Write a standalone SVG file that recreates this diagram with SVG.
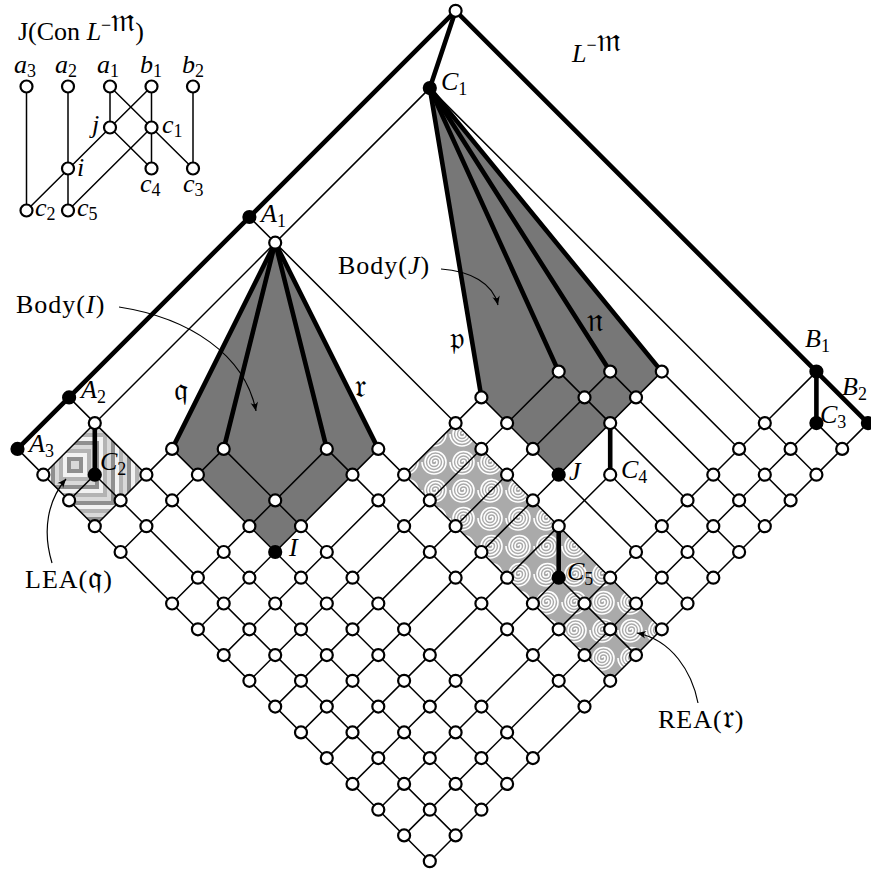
<svg xmlns="http://www.w3.org/2000/svg" width="871" height="873" viewBox="0 0 871 873">
<style>
.t{stroke:#000;stroke-width:1.5;fill:none;stroke-linecap:round}
.k{stroke:#000;stroke-width:4.6;fill:none;stroke-linecap:round}
.a{stroke:#000;stroke-width:1.2;fill:none}
.w{fill:#fff;stroke:#000;stroke-width:2.2}
.b{fill:#000;stroke:#000;stroke-width:2.2}
text{font-family:"Liberation Serif","DejaVu Serif",serif;font-size:26px;fill:#000}
.i{font-style:italic}
.s{font-size:18px}
.f{font-family:"DejaVu Sans","Noto Sans",sans-serif;font-size:32px}
.body{fill:#777}
</style>
<defs>
<pattern id="spiral" width="28" height="28" patternUnits="userSpaceOnUse">
<rect width="28" height="28" fill="#aaa"/>
<path d="M14,14 a1.5,1.5 0 0 1 3,0 a3,3 0 0 1 -6,0 a4.5,4.5 0 0 1 9,0 a6,6 0 0 1 -12,0 a7.5,7.5 0 0 1 15,0 a9,9 0 0 1 -18,0 a10.5,10.5 0 0 1 21,0 a12,12 0 0 1 -24,0" fill="none" stroke="#fff" stroke-width="1.6"/>
</pattern>
<clipPath id="leaClip"><polygon points="94.8,423.1 146.4,474.7 94.8,526.2 43.3,474.7"/></clipPath>
<marker id="ah" markerWidth="12" markerHeight="10" viewBox="-10 -5 12 10" refX="0" refY="0" orient="auto" markerUnits="userSpaceOnUse">
<path d="M0,0 L-9,-3.8 Q-5,0 -9,3.8 Z" fill="#000"/>
</marker>
</defs>

<g id="areas">
<polygon class="body" points="275.2,242.7 172.1,448.9 275.2,552.0 378.3,448.9"/>
<polygon class="body" points="429.8,88.1 481.4,397.4 558.7,474.7 661.8,371.6"/>
<polygon fill="url(#spiral)" points="455.6,423.1 661.8,629.3 610.2,680.8 404.1,474.7"/>
<g clip-path="url(#leaClip)">
<rect x="3" y="393" width="144" height="144" fill="#8f8f8f"/>
<rect x="7" y="397" width="136" height="136" fill="#d9d9d9"/>
<rect x="11" y="401" width="128" height="128" fill="#b3b3b3"/>
<rect x="15" y="405" width="120" height="120" fill="#f2f2f2"/>
<rect x="19" y="409" width="112" height="112" fill="#8f8f8f"/>
<rect x="23" y="413" width="104" height="104" fill="#d9d9d9"/>
<rect x="27" y="417" width="96" height="96" fill="#b3b3b3"/>
<rect x="31" y="421" width="88" height="88" fill="#f2f2f2"/>
<rect x="35" y="425" width="80" height="80" fill="#8f8f8f"/>
<rect x="39" y="429" width="72" height="72" fill="#d9d9d9"/>
<rect x="43" y="433" width="64" height="64" fill="#b3b3b3"/>
<rect x="47" y="437" width="56" height="56" fill="#f2f2f2"/>
<rect x="51" y="441" width="48" height="48" fill="#8f8f8f"/>
<rect x="55" y="445" width="40" height="40" fill="#d9d9d9"/>
<rect x="59" y="449" width="32" height="32" fill="#b3b3b3"/>
<rect x="63" y="453" width="24" height="24" fill="#f2f2f2"/>
<rect x="67" y="457" width="16" height="16" fill="#8f8f8f"/>
<rect x="71" y="461" width="8" height="8" fill="#d9d9d9"/>
</g>
</g>

<g id="connectors">
<!-- thin lines, constant P -->
<line class="t" x1="429.8" y1="88.1" x2="43.3" y2="474.7"/>
<line class="t" x1="94.8" y1="474.7" x2="69.1" y2="500.4"/>
<line class="t" x1="172.1" y1="448.9" x2="94.8" y2="526.2"/>
<line class="t" x1="223.7" y1="448.9" x2="120.6" y2="552.0"/>
<line class="t" x1="326.8" y1="448.9" x2="172.1" y2="603.5"/>
<line class="t" x1="378.3" y1="448.9" x2="197.9" y2="629.3"/>
<line class="t" x1="481.4" y1="397.4" x2="223.7" y2="655.1"/>
<line class="t" x1="558.7" y1="371.6" x2="249.4" y2="680.8"/>
<line class="t" x1="610.2" y1="371.6" x2="275.2" y2="706.6"/>
<line class="t" x1="661.8" y1="371.6" x2="301.0" y2="732.4"/>
<line class="t" x1="610.2" y1="474.7" x2="326.8" y2="758.1"/>
<line class="t" x1="558.7" y1="577.7" x2="352.5" y2="783.9"/>
<line class="t" x1="816.4" y1="371.6" x2="378.3" y2="809.7"/>
<line class="t" x1="816.4" y1="423.1" x2="404.1" y2="835.4"/>
<line class="t" x1="867.9" y1="423.1" x2="429.8" y2="861.2"/>
<!-- thin lines, constant R -->
<line class="t" x1="816.4" y1="423.1" x2="842.2" y2="448.9"/>
<line class="t" x1="429.8" y1="88.1" x2="816.4" y2="474.7"/>
<line class="t" x1="661.8" y1="371.6" x2="790.6" y2="500.4"/>
<line class="t" x1="610.2" y1="371.6" x2="764.8" y2="526.2"/>
<line class="t" x1="558.7" y1="371.6" x2="739.1" y2="552.0"/>
<line class="t" x1="610.2" y1="474.7" x2="713.3" y2="577.7"/>
<line class="t" x1="481.4" y1="397.4" x2="687.5" y2="603.5"/>
<line class="t" x1="249.4" y1="217.0" x2="661.8" y2="629.3"/>
<line class="t" x1="558.7" y1="577.7" x2="636.0" y2="655.1"/>
<line class="t" x1="378.3" y1="448.9" x2="610.2" y2="680.8"/>
<line class="t" x1="326.8" y1="448.9" x2="584.5" y2="706.6"/>
<line class="t" x1="223.7" y1="448.9" x2="532.9" y2="758.1"/>
<line class="t" x1="172.1" y1="448.9" x2="507.1" y2="783.9"/>
<line class="t" x1="69.1" y1="397.4" x2="481.4" y2="809.7"/>
<line class="t" x1="94.8" y1="474.7" x2="455.6" y2="835.4"/>
<line class="t" x1="17.5" y1="448.9" x2="429.8" y2="861.2"/>
<!-- thick edges -->
<line class="k" x1="455.6" y1="10.8" x2="17.5" y2="448.9"/>
<line class="k" x1="455.6" y1="10.8" x2="867.9" y2="423.1"/>
<line class="k" x1="455.6" y1="10.8" x2="429.8" y2="88.1"/>
<line class="k" x1="816.4" y1="371.6" x2="816.4" y2="423.1"/>
<line class="k" x1="94.8" y1="423.1" x2="94.8" y2="474.7"/>
<line class="k" x1="610.2" y1="423.1" x2="610.2" y2="474.7"/>
<line class="k" x1="558.7" y1="526.2" x2="558.7" y2="577.7"/>
<line class="k" x1="429.8" y1="88.1" x2="481.4" y2="397.4"/>
<line class="k" x1="429.8" y1="88.1" x2="558.7" y2="371.6"/>
<line class="k" x1="429.8" y1="88.1" x2="610.2" y2="371.6"/>
<line class="k" x1="429.8" y1="88.1" x2="661.8" y2="371.6"/>
<line class="k" x1="275.2" y1="242.7" x2="172.1" y2="448.9"/>
<line class="k" x1="275.2" y1="242.7" x2="223.7" y2="448.9"/>
<line class="k" x1="275.2" y1="242.7" x2="326.8" y2="448.9"/>
<line class="k" x1="275.2" y1="242.7" x2="378.3" y2="448.9"/>
<!-- annotation arrows -->
<path class="a" d="M119,307 C190,318 245,355 256,411" marker-end="url(#ah)"/>
<path class="a" d="M441,269 C470,271 493,283 498,305" marker-end="url(#ah)"/>
<path class="a" d="M52,563 C42,530 48,500 66,479" marker-end="url(#ah)"/>
<path class="a" d="M698,703 C692,672 672,640 637,633" marker-end="url(#ah)"/>
<!-- inset edges -->
<line class="t" x1="26.5" y1="86.5" x2="26.5" y2="210.5"/>
<line class="t" x1="68" y1="86.5" x2="68" y2="210.5"/>
<line class="t" x1="110" y1="86.5" x2="110" y2="127.5"/>
<line class="t" x1="110" y1="86.5" x2="193" y2="168.5"/>
<line class="t" x1="151.5" y1="86.5" x2="26.5" y2="210.5"/>
<line class="t" x1="151.5" y1="86.5" x2="151.5" y2="168.5"/>
<line class="t" x1="193" y1="86.5" x2="193" y2="168.5"/>
<line class="t" x1="110" y1="127.5" x2="151.5" y2="168.5"/>
<line class="t" x1="151.5" y1="127.5" x2="68" y2="210.5"/>
</g>

<g id="nodes">
<g id="T"><circle class="w" cx="455.6" cy="10.8" r="6"/></g>
<g id="A1"><circle class="b" cx="249.4" cy="217.0" r="6"/></g>
<g id="A2"><circle class="b" cx="69.1" cy="397.4" r="6"/></g>
<g id="A3"><circle class="b" cx="17.5" cy="448.9" r="6"/></g>
<g id="C1"><circle class="b" cx="429.8" cy="88.1" r="6"/></g>
<g id="v1-8"><circle class="w" cx="275.2" cy="242.7" r="6"/></g>
<g id="v1-15"><circle class="w" cx="94.8" cy="423.1" r="6"/></g>
<g id="v1-17"><circle class="w" cx="43.3" cy="474.7" r="6"/></g>
<g id="C2"><circle class="b" cx="94.8" cy="474.7" r="6"/></g>
<g id="v2-17"><circle class="w" cx="69.1" cy="500.4" r="6"/></g>
<g id="v3-14"><circle class="w" cx="172.1" cy="448.9" r="6"/></g>
<g id="v3-15"><circle class="w" cx="146.4" cy="474.7" r="6"/></g>
<g id="v3-16"><circle class="w" cx="120.6" cy="500.4" r="6"/></g>
<g id="v3-17"><circle class="w" cx="94.8" cy="526.2" r="6"/></g>
<g id="v4-13"><circle class="w" cx="223.7" cy="448.9" r="6"/></g>
<g id="v4-14"><circle class="w" cx="197.9" cy="474.7" r="6"/></g>
<g id="v4-15"><circle class="w" cx="172.1" cy="500.4" r="6"/></g>
<g id="v4-16"><circle class="w" cx="146.4" cy="526.2" r="6"/></g>
<g id="v4-17"><circle class="w" cx="120.6" cy="552.0" r="6"/></g>
<g id="v6-11"><circle class="w" cx="326.8" cy="448.9" r="6"/></g>
<g id="v6-13"><circle class="w" cx="275.2" cy="500.4" r="6"/></g>
<g id="v6-14"><circle class="w" cx="249.4" cy="526.2" r="6"/></g>
<g id="v6-15"><circle class="w" cx="223.7" cy="552.0" r="6"/></g>
<g id="v6-16"><circle class="w" cx="197.9" cy="577.7" r="6"/></g>
<g id="v6-17"><circle class="w" cx="172.1" cy="603.5" r="6"/></g>
<g id="v7-10"><circle class="w" cx="378.3" cy="448.9" r="6"/></g>
<g id="v7-11"><circle class="w" cx="352.5" cy="474.7" r="6"/></g>
<g id="v7-13"><circle class="w" cx="301.0" cy="526.2" r="6"/></g>
<g id="I"><circle class="b" cx="275.2" cy="552.0" r="6"/></g>
<g id="v7-15"><circle class="w" cx="249.4" cy="577.7" r="6"/></g>
<g id="v7-16"><circle class="w" cx="223.7" cy="603.5" r="6"/></g>
<g id="v7-17"><circle class="w" cx="197.9" cy="629.3" r="6"/></g>
<g id="v8-7"><circle class="w" cx="481.4" cy="397.4" r="6"/></g>
<g id="v8-8"><circle class="w" cx="455.6" cy="423.1" r="6"/></g>
<g id="v8-10"><circle class="w" cx="404.1" cy="474.7" r="6"/></g>
<g id="v8-11"><circle class="w" cx="378.3" cy="500.4" r="6"/></g>
<g id="v8-13"><circle class="w" cx="326.8" cy="552.0" r="6"/></g>
<g id="v8-14"><circle class="w" cx="301.0" cy="577.7" r="6"/></g>
<g id="v8-15"><circle class="w" cx="275.2" cy="603.5" r="6"/></g>
<g id="v8-16"><circle class="w" cx="249.4" cy="629.3" r="6"/></g>
<g id="v8-17"><circle class="w" cx="223.7" cy="655.1" r="6"/></g>
<g id="v9-5"><circle class="w" cx="558.7" cy="371.6" r="6"/></g>
<g id="v9-7"><circle class="w" cx="507.1" cy="423.1" r="6"/></g>
<g id="v9-8"><circle class="w" cx="481.4" cy="448.9" r="6"/></g>
<g id="v9-10"><circle class="w" cx="429.8" cy="500.4" r="6"/></g>
<g id="v9-11"><circle class="w" cx="404.1" cy="526.2" r="6"/></g>
<g id="v9-13"><circle class="w" cx="352.5" cy="577.7" r="6"/></g>
<g id="v9-14"><circle class="w" cx="326.8" cy="603.5" r="6"/></g>
<g id="v9-15"><circle class="w" cx="301.0" cy="629.3" r="6"/></g>
<g id="v9-16"><circle class="w" cx="275.2" cy="655.1" r="6"/></g>
<g id="v9-17"><circle class="w" cx="249.4" cy="680.8" r="6"/></g>
<g id="v10-4"><circle class="w" cx="610.2" cy="371.6" r="6"/></g>
<g id="v10-5"><circle class="w" cx="584.5" cy="397.4" r="6"/></g>
<g id="v10-7"><circle class="w" cx="532.9" cy="448.9" r="6"/></g>
<g id="v10-8"><circle class="w" cx="507.1" cy="474.7" r="6"/></g>
<g id="v10-10"><circle class="w" cx="455.6" cy="526.2" r="6"/></g>
<g id="v10-11"><circle class="w" cx="429.8" cy="552.0" r="6"/></g>
<g id="v10-13"><circle class="w" cx="378.3" cy="603.5" r="6"/></g>
<g id="v10-14"><circle class="w" cx="352.5" cy="629.3" r="6"/></g>
<g id="v10-15"><circle class="w" cx="326.8" cy="655.1" r="6"/></g>
<g id="v10-16"><circle class="w" cx="301.0" cy="680.8" r="6"/></g>
<g id="v10-17"><circle class="w" cx="275.2" cy="706.6" r="6"/></g>
<g id="v11-3"><circle class="w" cx="661.8" cy="371.6" r="6"/></g>
<g id="v11-4"><circle class="w" cx="636.0" cy="397.4" r="6"/></g>
<g id="v11-5"><circle class="w" cx="610.2" cy="423.1" r="6"/></g>
<g id="J"><circle class="b" cx="558.7" cy="474.7" r="6"/></g>
<g id="v11-8"><circle class="w" cx="532.9" cy="500.4" r="6"/></g>
<g id="v11-10"><circle class="w" cx="481.4" cy="552.0" r="6"/></g>
<g id="v11-11"><circle class="w" cx="455.6" cy="577.7" r="6"/></g>
<g id="v11-13"><circle class="w" cx="404.1" cy="629.3" r="6"/></g>
<g id="v11-14"><circle class="w" cx="378.3" cy="655.1" r="6"/></g>
<g id="v11-15"><circle class="w" cx="352.5" cy="680.8" r="6"/></g>
<g id="v11-16"><circle class="w" cx="326.8" cy="706.6" r="6"/></g>
<g id="v11-17"><circle class="w" cx="301.0" cy="732.4" r="6"/></g>
<g id="C4"><circle class="w" cx="610.2" cy="474.7" r="6"/></g>
<g id="v12-8"><circle class="w" cx="558.7" cy="526.2" r="6"/></g>
<g id="v12-10"><circle class="w" cx="507.1" cy="577.7" r="6"/></g>
<g id="v12-11"><circle class="w" cx="481.4" cy="603.5" r="6"/></g>
<g id="v12-13"><circle class="w" cx="429.8" cy="655.1" r="6"/></g>
<g id="v12-14"><circle class="w" cx="404.1" cy="680.8" r="6"/></g>
<g id="v12-15"><circle class="w" cx="378.3" cy="706.6" r="6"/></g>
<g id="v12-16"><circle class="w" cx="352.5" cy="732.4" r="6"/></g>
<g id="v12-17"><circle class="w" cx="326.8" cy="758.1" r="6"/></g>
<g id="C5"><circle class="b" cx="558.7" cy="577.7" r="6"/></g>
<g id="v13-10"><circle class="w" cx="532.9" cy="603.5" r="6"/></g>
<g id="v13-11"><circle class="w" cx="507.1" cy="629.3" r="6"/></g>
<g id="v13-13"><circle class="w" cx="455.6" cy="680.8" r="6"/></g>
<g id="v13-14"><circle class="w" cx="429.8" cy="706.6" r="6"/></g>
<g id="v13-15"><circle class="w" cx="404.1" cy="732.4" r="6"/></g>
<g id="v13-16"><circle class="w" cx="378.3" cy="758.1" r="6"/></g>
<g id="v13-17"><circle class="w" cx="352.5" cy="783.9" r="6"/></g>
<g id="B1"><circle class="b" cx="816.4" cy="371.6" r="6"/></g>
<g id="v14-2"><circle class="w" cx="764.8" cy="423.1" r="6"/></g>
<g id="v14-3"><circle class="w" cx="739.1" cy="448.9" r="6"/></g>
<g id="v14-4"><circle class="w" cx="713.3" cy="474.7" r="6"/></g>
<g id="v14-5"><circle class="w" cx="687.5" cy="500.4" r="6"/></g>
<g id="v14-6"><circle class="w" cx="661.8" cy="526.2" r="6"/></g>
<g id="v14-7"><circle class="w" cx="636.0" cy="552.0" r="6"/></g>
<g id="v14-8"><circle class="w" cx="610.2" cy="577.7" r="6"/></g>
<g id="v14-9"><circle class="w" cx="584.5" cy="603.5" r="6"/></g>
<g id="v14-10"><circle class="w" cx="558.7" cy="629.3" r="6"/></g>
<g id="v14-11"><circle class="w" cx="532.9" cy="655.1" r="6"/></g>
<g id="v14-13"><circle class="w" cx="481.4" cy="706.6" r="6"/></g>
<g id="v14-14"><circle class="w" cx="455.6" cy="732.4" r="6"/></g>
<g id="v14-15"><circle class="w" cx="429.8" cy="758.1" r="6"/></g>
<g id="v14-16"><circle class="w" cx="404.1" cy="783.9" r="6"/></g>
<g id="v14-17"><circle class="w" cx="378.3" cy="809.7" r="6"/></g>
<g id="C3"><circle class="b" cx="816.4" cy="423.1" r="6"/></g>
<g id="v15-2"><circle class="w" cx="790.6" cy="448.9" r="6"/></g>
<g id="v15-3"><circle class="w" cx="764.8" cy="474.7" r="6"/></g>
<g id="v15-4"><circle class="w" cx="739.1" cy="500.4" r="6"/></g>
<g id="v15-5"><circle class="w" cx="713.3" cy="526.2" r="6"/></g>
<g id="v15-6"><circle class="w" cx="687.5" cy="552.0" r="6"/></g>
<g id="v15-7"><circle class="w" cx="661.8" cy="577.7" r="6"/></g>
<g id="v15-8"><circle class="w" cx="636.0" cy="603.5" r="6"/></g>
<g id="v15-9"><circle class="w" cx="610.2" cy="629.3" r="6"/></g>
<g id="v15-10"><circle class="w" cx="584.5" cy="655.1" r="6"/></g>
<g id="v15-11"><circle class="w" cx="558.7" cy="680.8" r="6"/></g>
<g id="v15-13"><circle class="w" cx="507.1" cy="732.4" r="6"/></g>
<g id="v15-14"><circle class="w" cx="481.4" cy="758.1" r="6"/></g>
<g id="v15-15"><circle class="w" cx="455.6" cy="783.9" r="6"/></g>
<g id="v15-16"><circle class="w" cx="429.8" cy="809.7" r="6"/></g>
<g id="v15-17"><circle class="w" cx="404.1" cy="835.4" r="6"/></g>
<g id="B2"><circle class="b" cx="867.9" cy="423.1" r="6"/></g>
<g id="v16-1"><circle class="w" cx="842.2" cy="448.9" r="6"/></g>
<g id="v16-2"><circle class="w" cx="816.4" cy="474.7" r="6"/></g>
<g id="v16-3"><circle class="w" cx="790.6" cy="500.4" r="6"/></g>
<g id="v16-4"><circle class="w" cx="764.8" cy="526.2" r="6"/></g>
<g id="v16-5"><circle class="w" cx="739.1" cy="552.0" r="6"/></g>
<g id="v16-6"><circle class="w" cx="713.3" cy="577.7" r="6"/></g>
<g id="v16-7"><circle class="w" cx="687.5" cy="603.5" r="6"/></g>
<g id="v16-8"><circle class="w" cx="661.8" cy="629.3" r="6"/></g>
<g id="v16-9"><circle class="w" cx="636.0" cy="655.1" r="6"/></g>
<g id="v16-10"><circle class="w" cx="610.2" cy="680.8" r="6"/></g>
<g id="v16-11"><circle class="w" cx="584.5" cy="706.6" r="6"/></g>
<g id="v16-13"><circle class="w" cx="532.9" cy="758.1" r="6"/></g>
<g id="v16-14"><circle class="w" cx="507.1" cy="783.9" r="6"/></g>
<g id="v16-15"><circle class="w" cx="481.4" cy="809.7" r="6"/></g>
<g id="v16-16"><circle class="w" cx="455.6" cy="835.4" r="6"/></g>
<g id="v16-17"><circle class="w" cx="429.8" cy="861.2" r="6"/></g>
<!-- inset nodes -->
<g id="a3"><circle class="w" cx="26.5" cy="86.5" r="6"/></g>
<g id="a2"><circle class="w" cx="68" cy="86.5" r="6"/></g>
<g id="a1"><circle class="w" cx="110" cy="86.5" r="6"/></g>
<g id="b1"><circle class="w" cx="151.5" cy="86.5" r="6"/></g>
<g id="b2"><circle class="w" cx="193" cy="86.5" r="6"/></g>
<g id="j"><circle class="w" cx="110" cy="127.5" r="6"/></g>
<g id="c1"><circle class="w" cx="151.5" cy="127.5" r="6"/></g>
<g id="i"><circle class="w" cx="68" cy="168.5" r="6"/></g>
<g id="c4"><circle class="w" cx="151.5" cy="168.5" r="6"/></g>
<g id="c3"><circle class="w" cx="193" cy="168.5" r="6"/></g>
<g id="c2"><circle class="w" cx="26.5" cy="210.5" r="6"/></g>
<g id="c5"><circle class="w" cx="68" cy="210.5" r="6"/></g>
</g>

<g id="labels">
<text x="18" y="40" font-size="27">J(Con <tspan class="i">L</tspan><tspan class="s" dy="-9">−</tspan><tspan class="f" font-size="22">𝔪</tspan><tspan dy="9">)</tspan></text>
<text x="14" y="73" font-size="24"><tspan class="i">a</tspan><tspan class="s" font-size="16" dy="4">3</tspan></text>
<text x="55" y="73" font-size="24"><tspan class="i">a</tspan><tspan class="s" font-size="16" dy="4">2</tspan></text>
<text x="97" y="73" font-size="24"><tspan class="i">a</tspan><tspan class="s" font-size="16" dy="4">1</tspan></text>
<text x="140" y="73" font-size="24"><tspan class="i">b</tspan><tspan class="s" font-size="16" dy="4">1</tspan></text>
<text x="182" y="73" font-size="24"><tspan class="i">b</tspan><tspan class="s" font-size="16" dy="4">2</tspan></text>
<text x="92" y="133" font-size="24" class="i">j</text>
<text x="162" y="133" font-size="24"><tspan class="i">c</tspan><tspan class="s" font-size="16" dy="4">1</tspan></text>
<text x="77" y="176" font-size="24" class="i">i</text>
<text x="140" y="192" font-size="24"><tspan class="i">c</tspan><tspan class="s" font-size="16" dy="4">4</tspan></text>
<text x="183" y="192" font-size="24"><tspan class="i">c</tspan><tspan class="s" font-size="16" dy="4">3</tspan></text>
<text x="35" y="216" font-size="24"><tspan class="i">c</tspan><tspan class="s" font-size="16" dy="4">2</tspan></text>
<text x="77" y="216" font-size="24"><tspan class="i">c</tspan><tspan class="s" font-size="16" dy="4">5</tspan></text>

<text x="572" y="62"><tspan class="i">L</tspan><tspan class="s" dy="-11">−</tspan><tspan class="f" font-size="23">𝔪</tspan></text>
<text x="441" y="90"><tspan class="i">C</tspan><tspan class="s" dy="5">1</tspan></text>
<text x="261" y="222"><tspan class="i">A</tspan><tspan class="s" dy="5">1</tspan></text>
<text x="81" y="398"><tspan class="i">A</tspan><tspan class="s" dy="5">2</tspan></text>
<text x="29" y="452"><tspan class="i">A</tspan><tspan class="s" dy="5">3</tspan></text>
<text x="100" y="470"><tspan class="i">C</tspan><tspan class="s" dy="5">2</tspan></text>
<text x="805" y="347"><tspan class="i">B</tspan><tspan class="s" dy="5">1</tspan></text>
<text x="842" y="395"><tspan class="i">B</tspan><tspan class="s" dy="5">2</tspan></text>
<text x="820" y="423"><tspan class="i">C</tspan><tspan class="s" dy="5">3</tspan></text>
<text x="621" y="478"><tspan class="i">C</tspan><tspan class="s" dy="5">4</tspan></text>
<text x="567" y="580"><tspan class="i">C</tspan><tspan class="s" dy="5">5</tspan></text>
<text x="569" y="480" class="i">J</text>
<text x="289" y="556" class="i">I</text>

<text x="16" y="313" font-size="27" letter-spacing="1">Body(<tspan class="i">I</tspan>)</text>
<text x="338" y="274" font-size="27" letter-spacing="1">Body(<tspan class="i">J</tspan>)</text>
<text x="25" y="588" font-size="27" letter-spacing="1">LEA(<tspan class="f" font-size="30">𝔮</tspan>)</text>
<text x="658" y="728" font-size="27" letter-spacing="1">REA(<tspan class="f" font-size="30">𝔯</tspan>)</text>

<text x="174" y="400" class="f">𝔮</text>
<text x="355" y="397" class="f">𝔯</text>
<text x="450" y="349" class="f">𝔭</text>
<text x="587" y="331" class="f">𝔫</text>
</g>
</svg>
